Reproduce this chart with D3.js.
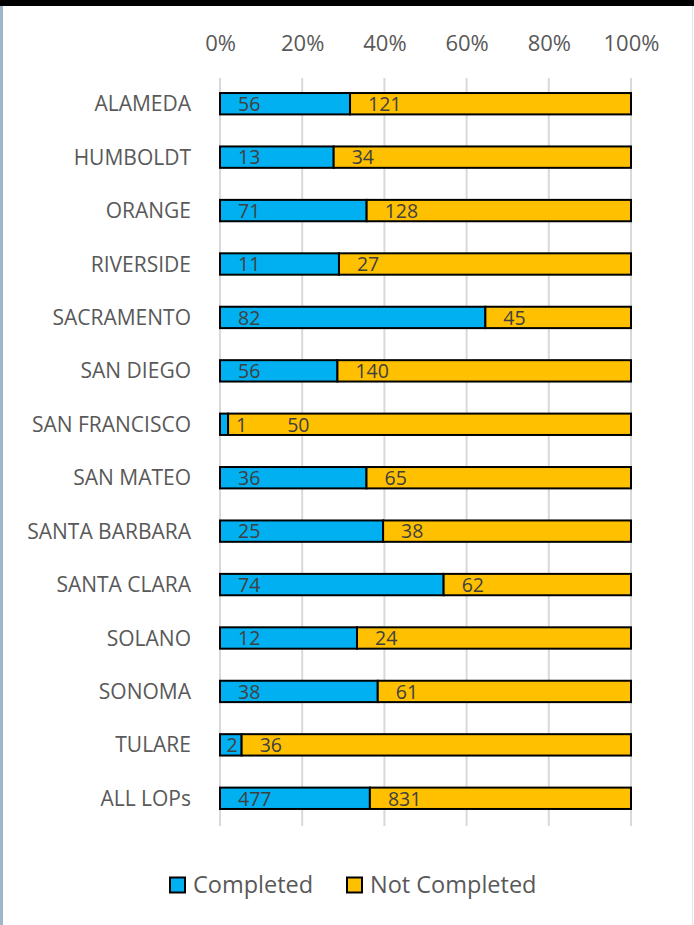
<!DOCTYPE html>
<html lang="en">
<head>
  <meta charset="UTF-8">
  <title>LOP completion</title>
  <script src="https://cdn.jsdelivr.net/npm/d3@7/dist/d3.min.js"></script>
  <style>
    body { margin: 0; background: #fff; }
    #container { position: relative; width: 694px; height: 925px; }
  </style>
</head>
<body>
  <div id="container"></div>
  <script>
    const counties = ["ALAMEDA", "HUMBOLDT", "ORANGE", "RIVERSIDE", "SACRAMENTO", "SAN DIEGO",
      "SAN FRANCISCO", "SAN MATEO", "SANTA BARBARA", "SANTA CLARA", "SOLANO", "SONOMA",
      "TULARE", "ALL LOPs"];
    const completed = [56, 13, 71, 11, 82, 56, 1, 36, 25, 74, 12, 38, 2, 477];
    const notCompleted = [121, 34, 128, 27, 45, 140, 50, 65, 38, 62, 24, 61, 36, 831];
    const tickValues = [0, 0.2, 0.4, 0.6, 0.8, 1];
    const seriesNames = ["Completed", "Not Completed"];
    const colors = ["#00B0F0", "#FFC000"];

    const width = 694, height = 925;
    const font = "'Open Sans', sans-serif";

    const svg = d3.select("#container").append("svg")
      .attr("width", width).attr("height", height);

    // frame
    svg.append("rect").attr("x", 0).attr("y", 0).attr("width", width).attr("height", 6).attr("fill", "#000");
    svg.append("rect").attr("x", 0).attr("y", 6).attr("width", 3).attr("height", height - 6).attr("fill", "#9fb6c6");
    svg.append("rect").attr("x", 692).attr("y", 6).attr("width", 1).attr("height", height - 6).attr("fill", "#e6e6e6");

    const x = d3.scaleLinear().domain([0, 1]).range([220, 631]);
    const y = d3.scaleBand().domain(counties).range([77, 825]).paddingInner(0.6).paddingOuter(0.3);

    // gridlines
    svg.append("g").selectAll("line").data(tickValues).enter().append("line")
      .attr("x1", d => x(d)).attr("x2", d => x(d))
      .attr("y1", 78).attr("y2", 826)
      .attr("stroke", "#d9d9d9").attr("stroke-width", 2);

    // top axis labels
    const xAxis = d3.axisTop(x).tickValues(tickValues).tickFormat(d3.format(".0%")).tickSize(0).tickPadding(0);
    const gx = svg.append("g").attr("transform", "translate(0,51)").call(xAxis);
    gx.select(".domain").remove();
    gx.selectAll("text").attr("font-family", font).attr("font-size", 22).attr("fill", "#595959").attr("dy", 0);

    // category labels
    const yAxis = d3.axisLeft(y).tickSize(0).tickPadding(0);
    const gy = svg.append("g").attr("transform", "translate(191,0)").call(yAxis);
    gy.select(".domain").remove();
    gy.selectAll("text").attr("font-family", font).attr("font-size", 21).attr("fill", "#595959")
      .attr("dy", "0.36em");

    // stacked bars
    const rows = counties.map((c, i) => {
      const total = completed[i] + notCompleted[i];
      return [
        { c: c, s: 0, v: completed[i], x0: 0, x1: completed[i] / total },
        { c: c, s: 1, v: notCompleted[i], x0: completed[i] / total, x1: 1 }
      ];
    }).flat();

    const bars = svg.append("g");
    bars.selectAll("rect").data(rows).enter().append("rect")
      .attr("x", d => x(d.x0))
      .attr("y", d => y(d.c))
      .attr("width", d => x(d.x1) - x(d.x0))
      .attr("height", y.bandwidth())
      .attr("fill", d => colors[d.s])
      .attr("stroke", "#000").attr("stroke-width", 2);

    // data labels, inside base; pushed right if they would collide
    const labels = bars.selectAll("text").data(rows).enter().append("text")
      .attr("y", d => y(d.c) + y.bandwidth() / 2)
      .attr("dy", "0.37em")
      .attr("font-family", font).attr("font-size", 19.5).attr("fill", "#404040")
      .text(d => d.v);
    let prevEnd = -Infinity;
    labels.attr("x", function (d) {
      const start = x(d.x0), end = x(d.x1);
      const tw = this.getComputedTextLength();
      let px = Math.min(start + 18, end - tw - 4);
      if (px < start) px = start + 16;
      if (d.s === 0) prevEnd = -Infinity;
      if (px < prevEnd) px = prevEnd + 40;
      prevEnd = px + tw;
      return px;
    });

    // legend
    const legend = svg.append("g").attr("transform", "translate(0,885)");
    const legendX = [170, 347];
    seriesNames.forEach((n, i) => {
      legend.append("rect").attr("x", legendX[i]).attr("y", -7.5).attr("width", 15).attr("height", 15)
        .attr("fill", colors[i]).attr("stroke", "#000").attr("stroke-width", 2);
      legend.append("text").attr("x", legendX[i] + 23).attr("y", 0).attr("dy", "0.36em")
        .attr("font-family", font).attr("font-size", 23.5).attr("fill", "#595959").text(n);
    });
  </script>
</body>
</html>
